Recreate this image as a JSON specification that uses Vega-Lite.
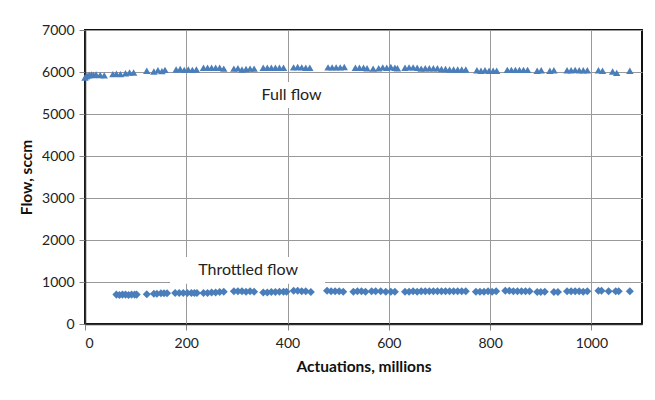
{
  "$schema": "https://vega.github.io/schema/vega-lite/v6.json",
  "width": 557,
  "height": 294,
  "autosize": "none",
  "padding": {"left": 85, "top": 30, "right": 13, "bottom": 76},
  "background": "white",
  "config": {
    "font": "Lato",
    "view": {"stroke": "#111", "strokeWidth": 2},
    "axis": {
      "labelFont": "Lato", "labelFontSize": 14, "labelColor": "#222",
      "titleFont": "Lato", "titleFontSize": 15.5, "titleFontWeight": "bold", "titleColor": "#111",
      "gridColor": "#999", "gridWidth": 1, "gridOpacity": 1,
      "tickColor": "#888", "tickSize": 6, "domainColor": "#333", "domainWidth": 1.5
    }
  },
  "datasets": {
    "pts": [
      {"x": 0, "flow": 5870, "series": "Full flow"},
      {"x": 3, "flow": 5900, "series": "Full flow"},
      {"x": 6, "flow": 5920, "series": "Full flow"},
      {"x": 9, "flow": 5930, "series": "Full flow"},
      {"x": 13, "flow": 5940, "series": "Full flow"},
      {"x": 17, "flow": 5930, "series": "Full flow"},
      {"x": 22, "flow": 5940, "series": "Full flow"},
      {"x": 30, "flow": 5930, "series": "Full flow"},
      {"x": 38, "flow": 5920, "series": "Full flow"},
      {"x": 55, "flow": 5950, "series": "Full flow"},
      {"x": 62, "flow": 5960, "series": "Full flow"},
      {"x": 70, "flow": 5950, "series": "Full flow"},
      {"x": 80, "flow": 5970, "series": "Full flow"},
      {"x": 88, "flow": 5990, "series": "Full flow"},
      {"x": 96, "flow": 5990, "series": "Full flow"},
      {"x": 122, "flow": 6030, "series": "Full flow"},
      {"x": 136, "flow": 6010, "series": "Full flow"},
      {"x": 144, "flow": 6040, "series": "Full flow"},
      {"x": 152, "flow": 6020, "series": "Full flow"},
      {"x": 158, "flow": 6050, "series": "Full flow"},
      {"x": 180, "flow": 6060, "series": "Full flow"},
      {"x": 188, "flow": 6070, "series": "Full flow"},
      {"x": 196, "flow": 6050, "series": "Full flow"},
      {"x": 204, "flow": 6060, "series": "Full flow"},
      {"x": 212, "flow": 6050, "series": "Full flow"},
      {"x": 220, "flow": 6060, "series": "Full flow"},
      {"x": 234, "flow": 6100, "series": "Full flow"},
      {"x": 242, "flow": 6100, "series": "Full flow"},
      {"x": 250, "flow": 6100, "series": "Full flow"},
      {"x": 258, "flow": 6100, "series": "Full flow"},
      {"x": 266, "flow": 6100, "series": "Full flow"},
      {"x": 274, "flow": 6080, "series": "Full flow"},
      {"x": 294, "flow": 6080, "series": "Full flow"},
      {"x": 302, "flow": 6090, "series": "Full flow"},
      {"x": 310, "flow": 6060, "series": "Full flow"},
      {"x": 318, "flow": 6070, "series": "Full flow"},
      {"x": 326, "flow": 6080, "series": "Full flow"},
      {"x": 334, "flow": 6080, "series": "Full flow"},
      {"x": 352, "flow": 6100, "series": "Full flow"},
      {"x": 360, "flow": 6100, "series": "Full flow"},
      {"x": 368, "flow": 6100, "series": "Full flow"},
      {"x": 376, "flow": 6100, "series": "Full flow"},
      {"x": 384, "flow": 6100, "series": "Full flow"},
      {"x": 392, "flow": 6100, "series": "Full flow"},
      {"x": 412, "flow": 6110, "series": "Full flow"},
      {"x": 420, "flow": 6120, "series": "Full flow"},
      {"x": 428, "flow": 6110, "series": "Full flow"},
      {"x": 436, "flow": 6100, "series": "Full flow"},
      {"x": 444, "flow": 6100, "series": "Full flow"},
      {"x": 480, "flow": 6110, "series": "Full flow"},
      {"x": 488, "flow": 6110, "series": "Full flow"},
      {"x": 496, "flow": 6110, "series": "Full flow"},
      {"x": 504, "flow": 6110, "series": "Full flow"},
      {"x": 512, "flow": 6120, "series": "Full flow"},
      {"x": 534, "flow": 6100, "series": "Full flow"},
      {"x": 542, "flow": 6100, "series": "Full flow"},
      {"x": 550, "flow": 6100, "series": "Full flow"},
      {"x": 557, "flow": 6090, "series": "Full flow"},
      {"x": 569, "flow": 6080, "series": "Full flow"},
      {"x": 580, "flow": 6090, "series": "Full flow"},
      {"x": 588, "flow": 6110, "series": "Full flow"},
      {"x": 596, "flow": 6100, "series": "Full flow"},
      {"x": 604, "flow": 6120, "series": "Full flow"},
      {"x": 612, "flow": 6100, "series": "Full flow"},
      {"x": 617, "flow": 6090, "series": "Full flow"},
      {"x": 632, "flow": 6100, "series": "Full flow"},
      {"x": 640, "flow": 6110, "series": "Full flow"},
      {"x": 648, "flow": 6110, "series": "Full flow"},
      {"x": 656, "flow": 6100, "series": "Full flow"},
      {"x": 664, "flow": 6080, "series": "Full flow"},
      {"x": 672, "flow": 6090, "series": "Full flow"},
      {"x": 680, "flow": 6090, "series": "Full flow"},
      {"x": 688, "flow": 6090, "series": "Full flow"},
      {"x": 696, "flow": 6090, "series": "Full flow"},
      {"x": 704, "flow": 6070, "series": "Full flow"},
      {"x": 712, "flow": 6070, "series": "Full flow"},
      {"x": 720, "flow": 6060, "series": "Full flow"},
      {"x": 728, "flow": 6060, "series": "Full flow"},
      {"x": 736, "flow": 6060, "series": "Full flow"},
      {"x": 744, "flow": 6060, "series": "Full flow"},
      {"x": 752, "flow": 6060, "series": "Full flow"},
      {"x": 774, "flow": 6040, "series": "Full flow"},
      {"x": 782, "flow": 6030, "series": "Full flow"},
      {"x": 790, "flow": 6040, "series": "Full flow"},
      {"x": 798, "flow": 6030, "series": "Full flow"},
      {"x": 806, "flow": 6030, "series": "Full flow"},
      {"x": 813, "flow": 6030, "series": "Full flow"},
      {"x": 834, "flow": 6050, "series": "Full flow"},
      {"x": 842, "flow": 6050, "series": "Full flow"},
      {"x": 850, "flow": 6050, "series": "Full flow"},
      {"x": 858, "flow": 6050, "series": "Full flow"},
      {"x": 866, "flow": 6050, "series": "Full flow"},
      {"x": 874, "flow": 6050, "series": "Full flow"},
      {"x": 893, "flow": 6030, "series": "Full flow"},
      {"x": 901, "flow": 6040, "series": "Full flow"},
      {"x": 918, "flow": 6030, "series": "Full flow"},
      {"x": 926, "flow": 6040, "series": "Full flow"},
      {"x": 952, "flow": 6040, "series": "Full flow"},
      {"x": 960, "flow": 6040, "series": "Full flow"},
      {"x": 968, "flow": 6050, "series": "Full flow"},
      {"x": 976, "flow": 6040, "series": "Full flow"},
      {"x": 984, "flow": 6040, "series": "Full flow"},
      {"x": 992, "flow": 6040, "series": "Full flow"},
      {"x": 1014, "flow": 6040, "series": "Full flow"},
      {"x": 1022, "flow": 6030, "series": "Full flow"},
      {"x": 1042, "flow": 6010, "series": "Full flow"},
      {"x": 1050, "flow": 5980, "series": "Full flow"},
      {"x": 1076, "flow": 6030, "series": "Full flow"},
      {"x": 62, "flow": 700, "series": "Throttled flow"},
      {"x": 68, "flow": 690, "series": "Throttled flow"},
      {"x": 74, "flow": 700, "series": "Throttled flow"},
      {"x": 80, "flow": 700, "series": "Throttled flow"},
      {"x": 86, "flow": 690, "series": "Throttled flow"},
      {"x": 92, "flow": 700, "series": "Throttled flow"},
      {"x": 98, "flow": 700, "series": "Throttled flow"},
      {"x": 102, "flow": 700, "series": "Throttled flow"},
      {"x": 122, "flow": 710, "series": "Throttled flow"},
      {"x": 136, "flow": 720, "series": "Throttled flow"},
      {"x": 142, "flow": 720, "series": "Throttled flow"},
      {"x": 150, "flow": 730, "series": "Throttled flow"},
      {"x": 156, "flow": 730, "series": "Throttled flow"},
      {"x": 162, "flow": 730, "series": "Throttled flow"},
      {"x": 178, "flow": 740, "series": "Throttled flow"},
      {"x": 186, "flow": 740, "series": "Throttled flow"},
      {"x": 194, "flow": 740, "series": "Throttled flow"},
      {"x": 202, "flow": 740, "series": "Throttled flow"},
      {"x": 210, "flow": 740, "series": "Throttled flow"},
      {"x": 216, "flow": 740, "series": "Throttled flow"},
      {"x": 221, "flow": 740, "series": "Throttled flow"},
      {"x": 234, "flow": 740, "series": "Throttled flow"},
      {"x": 242, "flow": 740, "series": "Throttled flow"},
      {"x": 250, "flow": 750, "series": "Throttled flow"},
      {"x": 258, "flow": 750, "series": "Throttled flow"},
      {"x": 266, "flow": 760, "series": "Throttled flow"},
      {"x": 274, "flow": 770, "series": "Throttled flow"},
      {"x": 294, "flow": 780, "series": "Throttled flow"},
      {"x": 302, "flow": 780, "series": "Throttled flow"},
      {"x": 310, "flow": 780, "series": "Throttled flow"},
      {"x": 318, "flow": 770, "series": "Throttled flow"},
      {"x": 326, "flow": 780, "series": "Throttled flow"},
      {"x": 334, "flow": 770, "series": "Throttled flow"},
      {"x": 352, "flow": 750, "series": "Throttled flow"},
      {"x": 360, "flow": 750, "series": "Throttled flow"},
      {"x": 368, "flow": 760, "series": "Throttled flow"},
      {"x": 376, "flow": 760, "series": "Throttled flow"},
      {"x": 384, "flow": 770, "series": "Throttled flow"},
      {"x": 392, "flow": 770, "series": "Throttled flow"},
      {"x": 398, "flow": 770, "series": "Throttled flow"},
      {"x": 412, "flow": 790, "series": "Throttled flow"},
      {"x": 420, "flow": 790, "series": "Throttled flow"},
      {"x": 428, "flow": 780, "series": "Throttled flow"},
      {"x": 436, "flow": 780, "series": "Throttled flow"},
      {"x": 446, "flow": 760, "series": "Throttled flow"},
      {"x": 478, "flow": 790, "series": "Throttled flow"},
      {"x": 486, "flow": 780, "series": "Throttled flow"},
      {"x": 494, "flow": 780, "series": "Throttled flow"},
      {"x": 502, "flow": 780, "series": "Throttled flow"},
      {"x": 510, "flow": 770, "series": "Throttled flow"},
      {"x": 530, "flow": 770, "series": "Throttled flow"},
      {"x": 538, "flow": 780, "series": "Throttled flow"},
      {"x": 546, "flow": 780, "series": "Throttled flow"},
      {"x": 554, "flow": 770, "series": "Throttled flow"},
      {"x": 566, "flow": 780, "series": "Throttled flow"},
      {"x": 574, "flow": 780, "series": "Throttled flow"},
      {"x": 584, "flow": 780, "series": "Throttled flow"},
      {"x": 594, "flow": 770, "series": "Throttled flow"},
      {"x": 604, "flow": 770, "series": "Throttled flow"},
      {"x": 612, "flow": 770, "series": "Throttled flow"},
      {"x": 632, "flow": 770, "series": "Throttled flow"},
      {"x": 640, "flow": 770, "series": "Throttled flow"},
      {"x": 648, "flow": 780, "series": "Throttled flow"},
      {"x": 656, "flow": 770, "series": "Throttled flow"},
      {"x": 664, "flow": 780, "series": "Throttled flow"},
      {"x": 672, "flow": 780, "series": "Throttled flow"},
      {"x": 680, "flow": 780, "series": "Throttled flow"},
      {"x": 688, "flow": 780, "series": "Throttled flow"},
      {"x": 696, "flow": 780, "series": "Throttled flow"},
      {"x": 704, "flow": 780, "series": "Throttled flow"},
      {"x": 712, "flow": 780, "series": "Throttled flow"},
      {"x": 720, "flow": 780, "series": "Throttled flow"},
      {"x": 728, "flow": 780, "series": "Throttled flow"},
      {"x": 736, "flow": 780, "series": "Throttled flow"},
      {"x": 744, "flow": 780, "series": "Throttled flow"},
      {"x": 752, "flow": 780, "series": "Throttled flow"},
      {"x": 772, "flow": 770, "series": "Throttled flow"},
      {"x": 780, "flow": 770, "series": "Throttled flow"},
      {"x": 788, "flow": 770, "series": "Throttled flow"},
      {"x": 796, "flow": 780, "series": "Throttled flow"},
      {"x": 804, "flow": 770, "series": "Throttled flow"},
      {"x": 812, "flow": 780, "series": "Throttled flow"},
      {"x": 830, "flow": 790, "series": "Throttled flow"},
      {"x": 838, "flow": 790, "series": "Throttled flow"},
      {"x": 846, "flow": 780, "series": "Throttled flow"},
      {"x": 854, "flow": 780, "series": "Throttled flow"},
      {"x": 862, "flow": 780, "series": "Throttled flow"},
      {"x": 870, "flow": 780, "series": "Throttled flow"},
      {"x": 878, "flow": 780, "series": "Throttled flow"},
      {"x": 893, "flow": 760, "series": "Throttled flow"},
      {"x": 900, "flow": 760, "series": "Throttled flow"},
      {"x": 908, "flow": 770, "series": "Throttled flow"},
      {"x": 926, "flow": 760, "series": "Throttled flow"},
      {"x": 934, "flow": 760, "series": "Throttled flow"},
      {"x": 952, "flow": 780, "series": "Throttled flow"},
      {"x": 960, "flow": 780, "series": "Throttled flow"},
      {"x": 968, "flow": 780, "series": "Throttled flow"},
      {"x": 976, "flow": 780, "series": "Throttled flow"},
      {"x": 984, "flow": 770, "series": "Throttled flow"},
      {"x": 992, "flow": 780, "series": "Throttled flow"},
      {"x": 1014, "flow": 790, "series": "Throttled flow"},
      {"x": 1020, "flow": 790, "series": "Throttled flow"},
      {"x": 1034, "flow": 780, "series": "Throttled flow"},
      {"x": 1048, "flow": 780, "series": "Throttled flow"},
      {"x": 1054, "flow": 780, "series": "Throttled flow"},
      {"x": 1076, "flow": 780, "series": "Throttled flow"}
    ],
    "labels": [
      {"label": "Full flow", "x": 408, "flow": 5450},
      {"label": "Throttled flow", "x": 322, "flow": 1290}
    ]
  },
  "layer": [
    {
      "data": {"name": "pts"},
      "mark": {"type": "point", "filled": true, "opacity": 1, "color": "#4A7EBB"},
      "encoding": {
        "x": {"field": "x", "type": "quantitative", "scale": {"domain": [0, 1100], "nice": false},
          "axis": {"values": [0, 200, 400, 600, 800, 1000], "format": "d", "title": "Actuations, millions", "labelPadding": 6, "titlePadding": 9}},
        "y": {"field": "flow", "type": "quantitative", "scale": {"domain": [0, 7000], "nice": false},
          "axis": {"values": [0, 1000, 2000, 3000, 4000, 5000, 6000, 7000], "format": "d", "title": "Flow, sccm", "labelPadding": 5, "titlePadding": 7}},
        "shape": {"field": "series", "type": "nominal", "scale": {"domain": ["Full flow", "Throttled flow"], "range": ["triangle-up", "diamond"]}, "legend": null},
        "size": {"field": "series", "type": "nominal", "scale": {"domain": ["Full flow", "Throttled flow"], "range": [55, 65]}, "legend": null}
      }
    },
    {
      "data": {"values": [{}]},
      "mark": {"type": "rect", "color": "white"},
      "encoding": {
        "x": {"datum": 168, "type": "quantitative"},
        "x2": {"datum": 474},
        "y": {"datum": 1595, "type": "quantitative"},
        "y2": {"datum": 960}
      }
    },
    {
      "data": {"values": [{}]},
      "mark": {"type": "rect", "color": "white"},
      "encoding": {
        "x": {"datum": 326, "type": "quantitative"},
        "x2": {"datum": 484},
        "y": {"datum": 5760, "type": "quantitative"},
        "y2": {"datum": 5140}
      }
    },
    {
      "data": {"name": "labels"},
      "mark": {"type": "text", "fontSize": 16, "color": "#222", "font": "Lato"},
      "encoding": {
        "x": {"field": "x", "type": "quantitative"},
        "y": {"field": "flow", "type": "quantitative"},
        "text": {"field": "label"}
      }
    }
  ]
}
